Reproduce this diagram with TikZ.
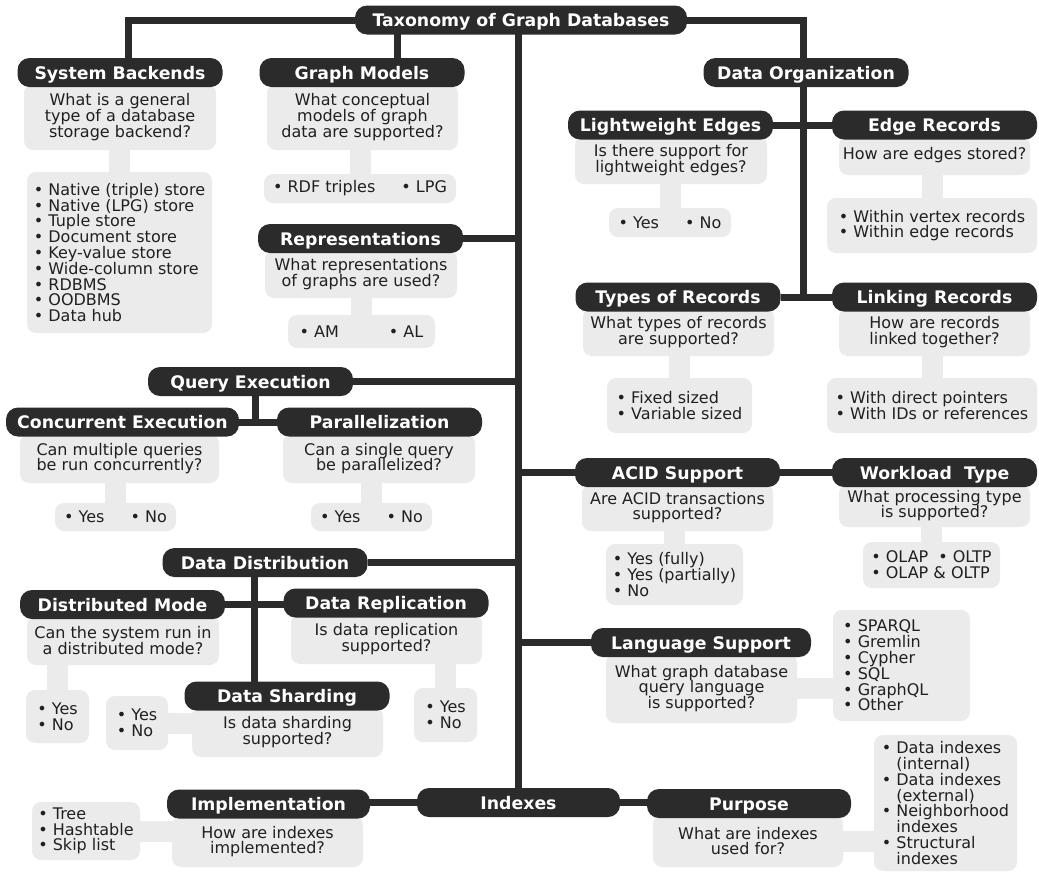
\documentclass[tikz,border=0pt]{standalone}
\usepackage{fontspec}
\setmainfont{DejaVu Sans}
\usetikzlibrary{backgrounds}

\definecolor{pill}{HTML}{2B2B2B}
\definecolor{boxgray}{HTML}{EBEBEB}
\definecolor{ink}{HTML}{202020}

\tikzset{
  head/.style={fill=pill, text=white, rounded corners=12pt, minimum width=205pt, minimum height=29pt,
    inner xsep=10pt, inner ysep=0pt, text height=13.5pt, text depth=0.5pt,
    font=\fontsize{17.3}{17.3}\selectfont\bfseries},
  ask/.style={fill=boxgray, text=ink, rounded corners=9pt, align=center, inner sep=0pt,
    font=\fontsize{16}{15.8}\selectfont},
  opts/.style={ask, align=left},
  link/.style={draw=pill, line width=7pt},
  stub/.style={draw=boxgray, line width=21pt},
}

\begin{document}
\begin{tikzpicture}[x=1pt, y=-1pt]

\useasboundingbox (0,0) rectangle (1039,873);

% Questions
\node[ask, minimum width=192pt, minimum height=66pt] (sbQ) at (120,117) {What is a general\\type of a database\\storage backend?};
\node[ask, minimum width=191pt, minimum height=66pt] (gmQ) at (362.5,117) {What conceptual\\models of graph\\data are supported?};
\node[ask, minimum width=192pt, minimum height=48pt] (repQ) at (361,274) {What representations\\of graphs are used?};
\node[ask, minimum width=192pt, minimum height=48pt] (lweQ) at (671,160) {Is there support for\\lightweight edges?};
\node[ask, minimum width=191pt, minimum height=39pt] (erQ) at (934.5,155.5) {How are edges stored?};
\node[ask, minimum width=191pt, minimum height=48pt] (torQ) at (678.5,332) {What types of records\\are supported?};
\node[ask, minimum width=191pt, minimum height=48pt] (lrQ) at (934.5,332) {How are records\\linked together?};
\node[ask, minimum width=199pt, minimum height=49pt] (ceQ) at (119.5,458.5) {Can multiple queries\\be run concurrently?};
\node[ask, minimum width=192pt, minimum height=49pt] (parQ) at (379,458.5) {Can a single query\\be parallelized?};
\node[ask, minimum width=192pt, minimum height=49pt] (dmQ) at (123,640.5) {Can the system run in\\a distributed mode?};
\node[ask, minimum width=191pt, minimum height=50pt] (drepQ) at (386.5,639) {Is data replication\\supported?};
\node[ask, minimum width=191pt, minimum height=50pt] (dshQ) at (287.5,732) {Is data sharding\\supported?};
\node[ask, minimum width=191pt, minimum height=47pt] (acidQ) at (677.5,507.5) {Are ACID transactions\\supported?};
\node[ask, minimum width=191pt, minimum height=43pt] (wlQ) at (934.5,505.5) {What processing type\\is supported?};
\node[ask, minimum width=191pt, minimum height=69pt] (langQ) at (701.5,688.5) {What graph database\\query language\\is supported?};
\node[ask, minimum width=191pt, minimum height=51pt] (implQ) at (267.5,841.5) {How are indexes\\implemented?};
\node[ask, minimum width=190pt, minimum height=52pt] (purpQ) at (748,841) {What are indexes\\used for?};

% Options
\node[opts, minimum width=185pt, minimum height=161pt] (sbO) at (119.5,252.5) {• Native (triple) store\\• Native (LPG) store\\• Tuple store\\• Document store\\• Key-value store\\• Wide-column store\\• RDBMS\\• OODBMS\\• Data hub};
\node[opts, minimum width=192pt, minimum height=29pt] (gmO) at (360,188.5) {• RDF triples\hspace{26pt}• LPG};
\node[opts, minimum width=147pt, minimum height=33pt] (repO) at (361.5,331.5) {• AM\hspace{50pt}• AL};
\node[opts, minimum width=122pt, minimum height=29pt] (lweO) at (670,222.5) {• Yes\hspace{26pt}• No};
\node[opts, minimum width=210pt, minimum height=55pt] (erO) at (932,225.5) {• Within vertex records\\• Within edge records};
\node[opts, minimum width=145pt, minimum height=55pt] (torO) at (679.5,405.5) {• Fixed sized\\• Variable sized};
\node[opts, minimum width=210pt, minimum height=55pt] (lrO) at (932,405.5) {• With direct pointers\\• With IDs or references};
\node[opts, minimum width=121pt, minimum height=28pt] (ceO) at (115.5,517) {• Yes\hspace{26pt}• No};
\node[opts, minimum width=121pt, minimum height=28pt] (parO) at (371.5,517) {• Yes\hspace{26pt}• No};
\node[opts, minimum width=63pt, minimum height=53pt] (dmO) at (57.5,716.5) {• Yes\\• No};
\node[opts, minimum width=63pt, minimum height=54pt] (drepO) at (445.5,715) {• Yes\\• No};
\node[opts, minimum width=62pt, minimum height=54pt] (dshO) at (137,723) {• Yes\\• No};
\node[opts, minimum width=137pt, minimum height=61pt] (acidO) at (674.5,574.5) {• Yes (fully)\\• Yes (partially)\\• No};
\node[opts, minimum width=137pt, minimum height=46pt] (wlO) at (931.5,565) {• OLAP\hspace{10pt}• OLTP\\• OLAP \& OLTP};
\node[opts, minimum width=137pt, minimum height=111pt, text width=117pt] (langO) at (901.5,665.5) {• SPARQL\\• Gremlin\\• Cypher\\• SQL\\• GraphQL\\• Other};
\node[opts, minimum width=108pt, minimum height=58pt] (implO) at (86,831) {• Tree\\• Hashtable\\• Skip list};
\node[opts, minimum width=143pt, minimum height=136pt] (purpO) at (945.5,803) {• Data indexes\\\phantom{• }(internal)\\• Data indexes\\\phantom{• }(external)\\• Neighborhood\\\phantom{• }indexes\\• Structural\\\phantom{• }indexes};

% Headers
\node[head, minimum width=332pt] (title) at (521,20) {Taxonomy of Graph Databases};
\node[head] (sb) at (120,72.5) {System Backends};
\node[head] (gm) at (362,72.5) {Graph Models};
\node[head] (rep) at (360.5,238.5) {Representations};
\node[head] (dorg) at (806,72.5) {Data Organization};
\node[head] (lwe) at (670.5,125) {Lightweight Edges};
\node[head] (er) at (934.5,125) {Edge Records};
\node[head] (tor) at (678,297) {Types of Records};
\node[head] (lr) at (934.5,297) {Linking Records};
\node[head] (qe) at (250.5,381.5) {Query Execution};
\node[head, minimum width=233pt] (ce) at (122.5,422) {Concurrent Execution};
\node[head] (par) at (379.5,422) {Parallelization};
\node[head] (dd) at (265,562.5) {Data Distribution};
\node[head] (dm) at (122.5,604.5) {Distributed Mode};
\node[head] (drep) at (386,603) {Data Replication};
\node[head] (dsh) at (287,696) {Data Sharding};
\node[head] (acid) at (677.5,472.5) {ACID Support};
\node[head] (wl) at (934.5,472.5) {Workload~~Type};
\node[head, minimum width=220pt] (lang) at (701,642.5) {Language Support};
\node[head, minimum width=203pt] (idx) at (518.5,802.5) {Indexes};
\node[head, minimum width=203pt] (impl) at (268.5,804) {Implementation};
\node[head, minimum width=204pt] (purp) at (749,803.5) {Purpose};

\begin{pgfonlayer}{background}
% Stubs
\draw[stub] (sbO) -- (sbO |- sbQ);
\draw[stub] (gmO) -- (gmO |- gmQ);
\draw[stub] (repO) -- (repO |- repQ);
\draw[stub] (lweO) -- (lweO |- lweQ);
\draw[stub] (erO) -- (erO |- erQ);
\draw[stub] (torO) -- (torO |- torQ);
\draw[stub] (lrO) -- (lrO |- lrQ);
\draw[stub] (ceO) -- (ceO |- ceQ);
\draw[stub] (parO) -- (parO |- parQ);
\draw[stub] (dmO) -- (dmO |- dmQ);
\draw[stub] (drepO) -- (drepO |- drepQ);
\draw[stub] (dshO) -- (dshO -| dshQ);
\draw[stub] (acidO) -- (acidO |- acidQ);
\draw[stub] (wlO) -- (wlO |- wlQ);
\draw[stub] (langQ) -- (langQ -| langO);
\draw[stub] (implO) -- (implO -| implQ);
\draw[stub] (purpQ) -- (purpQ -| purpO);

% Links
\draw[link] (title) -| ([xshift=8pt]sb.center);
\draw[link] ([xshift=35pt]gm.center) -- ([xshift=35pt]gm.center |- title);
\draw[link] (title) -| ([xshift=-3pt]dorg.center);
\draw[link] ([xshift=-3pt]dorg.center) -- ([xshift=-3pt]dorg.center |- tor);
\draw[link] (lwe) -- (er);
\draw[link] (tor) -- (lr);
\draw[link] (idx) -- (idx |- title);
\draw[link] (rep) -- (rep -| idx);
\draw[link] (qe) -- (qe -| idx);
\draw[link] ([xshift=5pt]qe.center) -- ([xshift=5pt]qe.center |- ce);
\draw[link] (ce) -- (par);
\draw[link] (dd) -- (dd -| idx);
\draw[link] ([xshift=-11pt]dd.center) -- ([xshift=-11pt]dd.center |- dsh);
\draw[link] (dm) -- (dm -| drep);
\draw[link] (acid) -- (acid -| idx);
\draw[link] (acid) -- (wl);
\draw[link] (lang) -- (lang -| idx);
\draw[link] (idx) -- (idx -| impl);
\draw[link] (idx) -- (idx -| purp);
\end{pgfonlayer}

\end{tikzpicture}
\end{document}
